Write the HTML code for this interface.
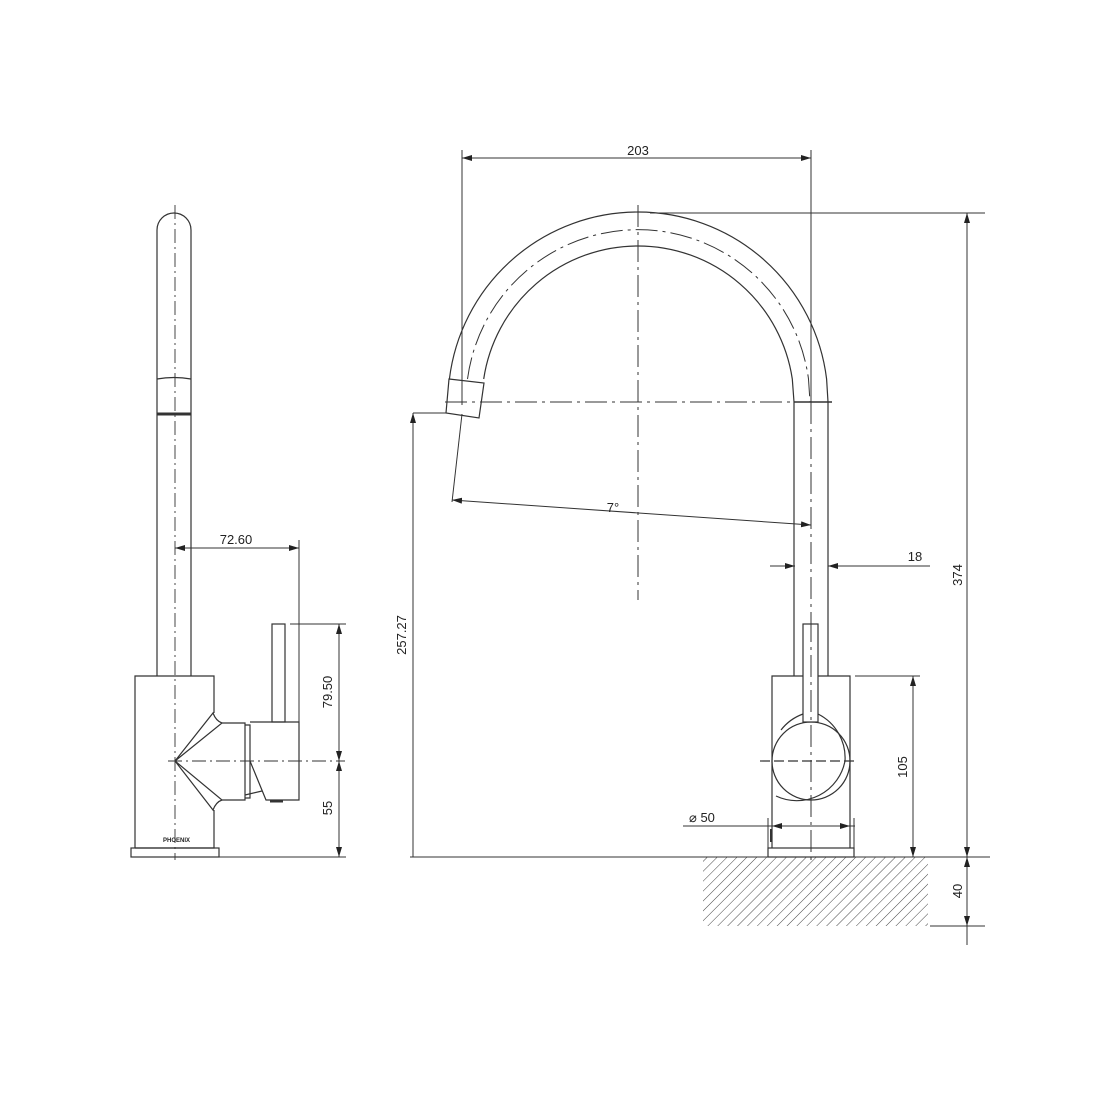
<!DOCTYPE html>
<html><head><meta charset="utf-8"><style>
html,body{margin:0;padding:0;background:#fff;}
svg{display:block;}
text{font-family:"Liberation Sans",sans-serif;font-size:13px;fill:#222;}
</style></head><body>
<svg width="1100" height="1100" viewBox="0 0 1100 1100" xmlns="http://www.w3.org/2000/svg">
<defs>
<pattern id="h" width="7" height="7" patternUnits="userSpaceOnUse" patternTransform="rotate(45)">
<line x1="0" y1="0" x2="0" y2="7" stroke="#444" stroke-width="1"/>
</pattern>
<marker id="a" viewBox="0 0 10 6" refX="10" refY="3" markerWidth="10" markerHeight="6" orient="auto-start-reverse" markerUnits="userSpaceOnUse"><path d="M0,0 L10,3 L0,6z" fill="#222"/></marker>
</defs>
<g fill="none" stroke="#333" stroke-width="1.2">
<!-- LEFT VIEW -->
<path d="M157,676 V230 A17,17 0 0 1 191,230 V676"/>
<path d="M157,379 Q174,376 191,379"/>
<line x1="157" y1="414" x2="191" y2="414" stroke-width="3"/>
<line x1="175" y1="205" x2="175" y2="860" stroke-dasharray="14,4,2,4" stroke-width="0.9"/>
<path d="M135,848 V676 H214 V713"/>
<path d="M214,810 V848 H135"/>
<rect x="131" y="848" width="88" height="9"/>
<path d="M175,761 L213,713 Q216,721 222,723 L175,761"/>
<path d="M175,761 L213,810 Q216,802 222,800 L175,761"/>
<path d="M222,723 H245 V800 H222"/>
<path d="M245,725 H250 V798 H245"/>
<path d="M250,722 H299 V800 H266 L250,761"/>
<path d="M245,795 L262,791"/>
<line x1="270" y1="801" x2="283" y2="801" stroke-width="3"/>
<rect x="272" y="624" width="13" height="98"/>
<line x1="168" y1="761" x2="345" y2="761" stroke-dasharray="14,4,2,4" stroke-width="0.9"/>
<!-- left dims -->
<line x1="175" y1="548" x2="299" y2="548" marker-start="url(#a)" marker-end="url(#a)" stroke-width="1"/>
<line x1="299" y1="540" x2="299" y2="722" stroke-width="1"/>
<line x1="290" y1="624" x2="346" y2="624" stroke-width="1"/>
<line x1="219" y1="857" x2="346" y2="857" stroke-width="1"/>
<line x1="339" y1="624" x2="339" y2="761" marker-start="url(#a)" marker-end="url(#a)" stroke-width="1"/>
<line x1="339" y1="761" x2="339" y2="857" marker-start="url(#a)" marker-end="url(#a)" stroke-width="1"/>

<!-- RIGHT VIEW spout -->
<path d="M449.4,379 A190,190 0 0 1 826.6,379 L828,402"/>
<path d="M467.5,379 A172,172 0 0 1 808.5,379 L810,402" stroke-dasharray="22,5,3,5" stroke-width="1"/>
<path d="M483.7,379 A156,156 0 0 1 792.3,379 L794,402"/>
<path d="M794,402 V676 M828,402 V676"/>
<line x1="811" y1="402" x2="811" y2="676" stroke-dasharray="22,5,3,5" stroke-width="1"/>
<line x1="794" y1="402" x2="832" y2="402" stroke-width="1.5"/>
<path d="M449,379 L484,383 L479,418 L446,413 Z"/>
<line x1="445" y1="402" x2="794" y2="402" stroke-dasharray="22,5,3,5" stroke-width="1"/>
<line x1="638" y1="205" x2="638" y2="600" stroke-dasharray="22,5,3,5" stroke-width="1"/>
<!-- base -->
<path d="M772,848 V676 H850 V848"/>
<rect x="768" y="848" width="86" height="9"/>
<path d="M781,730 A49,49 0 0 1 803,714 M818,714 A49,49 0 0 1 845,761 A49,49 0 0 1 776,796"/>
<path d="M772,761 A39,39 0 0 1 850,761 A39,39 0 0 1 772,761"/>
<line x1="760" y1="761" x2="856" y2="761" stroke-dasharray="10,4"/>
<rect x="803" y="624" width="15" height="98" fill="#fff"/>
<line x1="811" y1="620" x2="811" y2="865" stroke-dasharray="22,5,3,5" stroke-width="1"/>
<line x1="771" y1="829" x2="771" y2="842" stroke-width="2"/>
<!-- floor -->
<rect x="703" y="857" width="225" height="69" fill="url(#h)" stroke="none"/>
<line x1="410" y1="857" x2="990" y2="857" stroke-width="1"/>
<line x1="930" y1="926" x2="985" y2="926" stroke-width="1"/>
<!-- right dims -->
<line x1="462" y1="158" x2="811" y2="158" marker-start="url(#a)" marker-end="url(#a)" stroke-width="1"/>
<line x1="462" y1="150" x2="462" y2="405" stroke-width="1"/>
<line x1="811" y1="150" x2="811" y2="402" stroke-width="1"/>
<line x1="650" y1="213" x2="985" y2="213" stroke-width="1"/>
<line x1="967" y1="213" x2="967" y2="857" marker-start="url(#a)" marker-end="url(#a)" stroke-width="1"/>
<line x1="967" y1="857" x2="967" y2="926" marker-start="url(#a)" marker-end="url(#a)" stroke-width="1"/>
<line x1="967" y1="926" x2="967" y2="945" stroke-width="1"/>
<line x1="855" y1="676" x2="920" y2="676" stroke-width="1"/>
<line x1="913" y1="676" x2="913" y2="857" marker-start="url(#a)" marker-end="url(#a)" stroke-width="1"/>
<line x1="413" y1="413" x2="446" y2="413" stroke-width="1"/>
<line x1="413" y1="413" x2="413" y2="857" marker-start="url(#a)" stroke-width="1"/>
<line x1="462" y1="414" x2="452" y2="502" stroke-width="1"/>
<line x1="452" y1="500" x2="811" y2="525" marker-start="url(#a)" marker-end="url(#a)" stroke-width="1"/>
<line x1="770" y1="566" x2="795" y2="566" marker-end="url(#a)" stroke-width="1"/>
<line x1="930" y1="566" x2="828" y2="566" marker-end="url(#a)" stroke-width="1"/>
<line x1="683" y1="826" x2="855" y2="826" stroke-width="1"/>
<line x1="772" y1="826" x2="790" y2="826" marker-start="url(#a)" stroke-width="1"/>
<line x1="835" y1="826" x2="850" y2="826" marker-end="url(#a)" stroke-width="1"/>
<line x1="768" y1="818" x2="768" y2="848" stroke-width="1"/>
<line x1="854" y1="818" x2="854" y2="848" stroke-width="1"/>
</g>
<text x="236" y="544" text-anchor="middle">72.60</text>
<text x="163" y="842" style="font-size:6px;font-weight:bold">PHOENIX</text>
<text transform="translate(332,692) rotate(-90)" text-anchor="middle">79.50</text>
<text transform="translate(332,808) rotate(-90)" text-anchor="middle">55</text>
<text x="638" y="155" text-anchor="middle">203</text>
<text transform="translate(962,575) rotate(-90)" text-anchor="middle">374</text>
<text transform="translate(962,891) rotate(-90)" text-anchor="middle">40</text>
<text transform="translate(907,767) rotate(-90)" text-anchor="middle">105</text>
<text transform="translate(406,635) rotate(-90)" text-anchor="middle">257.27</text>
<text x="613" y="512" text-anchor="middle">7°</text>
<text x="915" y="561" text-anchor="middle">18</text>
<text x="689" y="822">⌀ 50</text>
</svg>
</body></html>
